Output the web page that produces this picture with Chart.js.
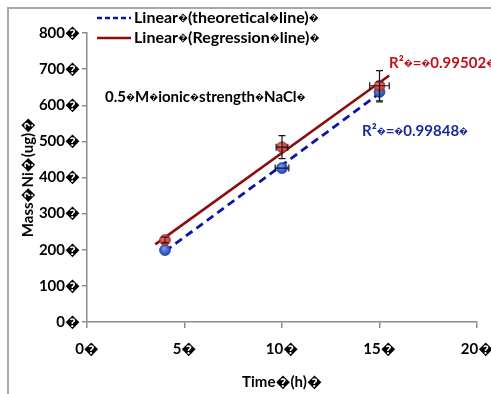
<!DOCTYPE html>
<html>
<head>
<meta charset="utf-8">
<script src="https://cdn.jsdelivr.net/npm/chart.js@4.4.1/dist/chart.umd.min.js"></script>
<style>
  html, body { margin: 0; padding: 0; background: #fff; }
  #wrap { position: relative; width: 491px; height: 394px; overflow: hidden; }
  #frame { position: absolute; left: 7px; top: 7px; width: 600px; height: 600px;
           border: 2px solid #a8a8a8; box-sizing: border-box; }
  #massChart { position: absolute; left: 0; top: 0; }
</style>
</head>
<body>
<div id="wrap">
  <div id="frame"></div>
  <canvas id="massChart" width="491" height="394"></canvas>
</div>
<script>
// Unrendered glyph that the original labels carry in place of spaces
const BOX = '\uFFFD';

// Sampling times (h) and nickel mass (ug)
const timeHours = [4, 10, 15];
const theoreticalMass = [199, 426, 637];
const measuredMass = [227, 484, 654];

// Error bar half-widths
const theoreticalErrX = [0, 0.35, 0];
const theoreticalErrY = [0, 0, 28];
const measuredErrX = [0, 0.3, 0.5];
const measuredErrY = [8, 32, 42];

// Axis ticks
const xTicks = [0, 5, 10, 15, 20];
const yTicks = [0, 100, 200, 300, 400, 500, 600, 700, 800];

// Text
const legendLabels = [
    'Linear' + BOX + '(theoretical' + BOX + 'line)' + BOX,
    'Linear' + BOX + '(Regression' + BOX + 'line)' + BOX
];
const r2Labels = [
    'R\u00B2' + BOX + '=' + BOX + '0.99848' + BOX,
    'R\u00B2' + BOX + '=' + BOX + '0.99502' + BOX
];
const noteLabel = '0.5' + BOX + 'M' + BOX + 'ionic' + BOX + 'strength' + BOX + 'NaCl' + BOX;
const xTitle = 'Time' + BOX + '(h)' + BOX;
const yTitle = 'Mass' + BOX + 'Ni' + BOX + '(ug)' + BOX;

const FONT = 'Lato, "Open Sans", sans-serif';
const BLUE_LINE = '#0b14a6';
const RED_LINE = '#8e0c0c';

/**
 * Least squares line through the points, sampled at the two ends
 */
function trendLine(xs, ys, from, to) {
    const n = xs.length;
    const mx = xs.reduce((a, b) => a + b, 0) / n;
    const my = ys.reduce((a, b) => a + b, 0) / n;
    let sxy = 0, sxx = 0;
    for (let i = 0; i < n; i++) {
        sxy += (xs[i] - mx) * (ys[i] - my);
        sxx += (xs[i] - mx) * (xs[i] - mx);
    }
    const slope = sxy / sxx;
    const icept = my - slope * mx;
    return [from, to].map(x => ({ x: x, y: icept + slope * x }));
}

function toPoints(xs, ys) {
    return xs.map((x, i) => ({ x: x, y: ys[i] }));
}

// Shaded marker fill, lighter near the top of each dot
function markerFill(light, dark) {
    return function(context) {
        const chart = context.chart;
        const raw = context.raw;
        if (!raw || !chart.scales || !chart.scales.x || !chart.scales.y) return dark;
        const px = chart.scales.x.getPixelForValue(raw.x);
        const py = chart.scales.y.getPixelForValue(raw.y);
        if (!isFinite(px) || !isFinite(py)) return dark;
        const g = chart.ctx.createRadialGradient(px - 1, py - 2, 0.5, px, py, 6);
        g.addColorStop(0, light);
        g.addColorStop(1, dark);
        return g;
    };
}

// Writes a label, setting the placeholder glyphs in a smaller size
function drawRun(ctx, text, x, y, size) {
    const parts = text.split(BOX);
    parts.forEach((part, i) => {
        ctx.font = 'bold ' + size + 'px ' + FONT;
        ctx.fillText(part, x, y);
        x += ctx.measureText(part).width;
        if (i < parts.length - 1) {
            ctx.font = Math.round(size * 0.62) + 'px ' + FONT;
            ctx.fillText(BOX, x, y);
            x += ctx.measureText(BOX).width;
        }
    });
}

/**
 * Draws x and y error bars for both point series
 */
const errorBars = {
    id: 'errorBars',
    afterDatasetsDraw(chart) {
        const { ctx, scales: { x, y } } = chart;
        const series = [
            [theoreticalMass, theoreticalErrX, theoreticalErrY],
            [measuredMass, measuredErrX, measuredErrY]
        ];
        const cap = 3.5;
        ctx.save();
        ctx.strokeStyle = '#151515';
        ctx.lineWidth = 1.2;
        series.forEach(([vals, ex, ey]) => {
            timeHours.forEach((t, i) => {
                const px = x.getPixelForValue(t);
                const py = y.getPixelForValue(vals[i]);
                ctx.beginPath();
                if (ey[i] > 0) {
                    const top = y.getPixelForValue(vals[i] + ey[i]);
                    const bot = y.getPixelForValue(vals[i] - ey[i]);
                    ctx.moveTo(px, top); ctx.lineTo(px, bot);
                    ctx.moveTo(px - cap, top); ctx.lineTo(px + cap, top);
                    ctx.moveTo(px - cap, bot); ctx.lineTo(px + cap, bot);
                }
                if (ex[i] > 0) {
                    const l = x.getPixelForValue(t - ex[i]);
                    const r = x.getPixelForValue(t + ex[i]);
                    ctx.moveTo(l, py); ctx.lineTo(r, py);
                    ctx.moveTo(l, py - cap); ctx.lineTo(l, py + cap);
                    ctx.moveTo(r, py - cap); ctx.lineTo(r, py + cap);
                }
                ctx.stroke();
            });
        });
        ctx.restore();
    }
};

/**
 * Trendline legend above the plot and the text notes inside it
 */
const notes = {
    id: 'notes',
    afterDraw(chart) {
        const ctx = chart.ctx;
        ctx.save();
        ctx.textBaseline = 'middle';
        ctx.textAlign = 'left';

        // legend
        const rows = [
            { y: 18, color: BLUE_LINE, dash: [5, 3] },
            { y: 38, color: RED_LINE, dash: [] }
        ];
        rows.forEach((row, i) => {
            ctx.strokeStyle = row.color;
            ctx.lineWidth = 2.5;
            ctx.setLineDash(row.dash);
            ctx.beginPath();
            ctx.moveTo(97, row.y);
            ctx.lineTo(131, row.y);
            ctx.stroke();
            ctx.setLineDash([]);
            ctx.fillStyle = '#000';
            drawRun(ctx, legendLabels[i], 134, row.y, 16);
        });

        ctx.fillStyle = '#000';
        drawRun(ctx, noteLabel, 105, 97, 15);

        ctx.fillStyle = '#c0101c';
        drawRun(ctx, r2Labels[1], 389, 63, 15);
        ctx.fillStyle = '#1b2a9c';
        drawRun(ctx, r2Labels[0], 362, 131, 15);
        ctx.restore();
    }
};

document.addEventListener('DOMContentLoaded', function() {
    const ctx = document.getElementById('massChart').getContext('2d');
    const axisColor = '#8c8c8c';
    const tickFont = { family: FONT, size: 15, weight: 'bold' };
    const titleFont = { family: FONT, size: 15, weight: 'bold' };

    new Chart(ctx, {
        type: 'scatter',
        data: {
            datasets: [
                {
                    label: 'measured',
                    data: toPoints(timeHours, measuredMass),
                    pointRadius: 5.5,
                    pointHoverRadius: 5.5,
                    backgroundColor: markerFill('#ee7a76', '#c02c28'),
                    borderColor: '#9c2a28',
                    borderWidth: 0.6
                },
                {
                    label: 'theoretical',
                    data: toPoints(timeHours, theoreticalMass),
                    pointRadius: 5.5,
                    pointHoverRadius: 5.5,
                    backgroundColor: markerFill('#6f9cf0', '#1d3ea6'),
                    borderColor: '#1a3490',
                    borderWidth: 0.6
                },
                {
                    label: legendLabels[0],
                    data: trendLine(timeHours, theoreticalMass, 4, 15),
                    showLine: true,
                    pointRadius: 0,
                    borderColor: BLUE_LINE,
                    borderWidth: 2.8,
                    borderDash: [8, 5]
                },
                {
                    label: legendLabels[1],
                    data: trendLine(timeHours, measuredMass, 3.5, 15.5),
                    showLine: true,
                    pointRadius: 0,
                    borderColor: RED_LINE,
                    borderWidth: 2.6
                }
            ]
        },
        options: {
            responsive: false,
            animation: false,
            layout: { padding: { left: 0, top: 33, right: 14, bottom: 0 } },
            plugins: {
                legend: { display: false },
                tooltip: { enabled: false }
            },
            scales: {
                x: {
                    type: 'linear',
                    min: 0,
                    max: 20,
                    afterBuildTicks: s => { s.ticks = xTicks.map(v => ({ value: v })); },
                    afterFit: s => {
                        s.height = 72;
                        s.paddingLeft = 0;
                        s.paddingRight = 0;
                    },
                    ticks: {
                        callback: v => v + BOX,
                        font: tickFont,
                        color: '#000',
                        padding: 12,
                        maxRotation: 0
                    },
                    grid: { drawOnChartArea: false, tickLength: 6, color: axisColor, lineWidth: 1.5 },
                    border: { color: axisColor, width: 1.5 },
                    title: {
                        display: true,
                        text: xTitle,
                        font: titleFont,
                        color: '#000',
                        padding: { top: 0, bottom: 3 }
                    }
                },
                y: {
                    type: 'linear',
                    min: 0,
                    max: 800,
                    afterBuildTicks: s => { s.ticks = yTicks.map(v => ({ value: v })); },
                    afterFit: s => {
                        s.width = 87;
                        s.paddingTop = 0;
                        s.paddingBottom = 0;
                    },
                    ticks: {
                        callback: v => v + BOX,
                        font: tickFont,
                        color: '#000',
                        padding: 2
                    },
                    grid: { drawOnChartArea: false, tickLength: 5, color: axisColor, lineWidth: 1.5 },
                    border: { color: axisColor, width: 1.5 },
                    title: {
                        display: true,
                        text: yTitle,
                        font: titleFont,
                        color: '#000',
                        padding: { top: 19, bottom: 0 }
                    }
                }
            }
        },
        plugins: [errorBars, notes]
    });
});
</script>
</body>
</html>
